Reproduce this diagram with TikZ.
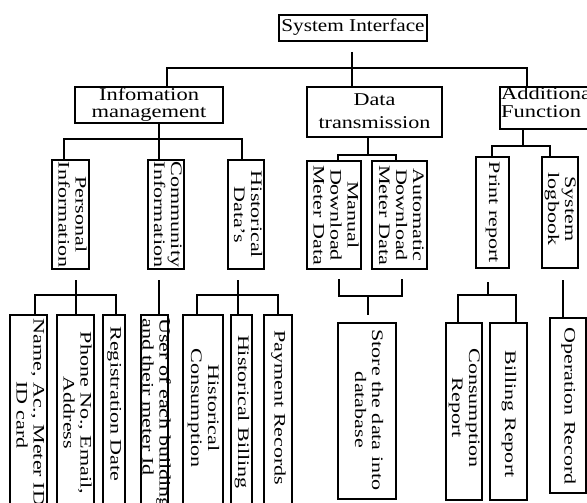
\documentclass[tikz,border=0pt]{standalone}
\usepackage{fontspec}
\setmainfont{Liberation Serif}
\usepackage{graphicx}
\newcommand{\vlab}[2][c]{\rotatebox{-90}{\scalebox{1.38}[1]{\begin{tabular}{@{}#1@{}}#2\end{tabular}}}}
\newcommand{\hlab}[3][c]{\scalebox{#2}[1]{\begin{tabular}{@{}#1@{}}#3\end{tabular}}}
\newcommand{\bx}[5]{\node[box, minimum width={#4-#2}, minimum height={#5-#3}] (#1) at ({(#2+#4)/2},{(#3+#5)/2}) {};}
\tikzset{
  box/.style={draw, line width=1.1pt, inner sep=0pt, outer sep=0pt, rectangle},
  htxt/.style={inner sep=0pt, font=\fontsize{18}{16}\selectfont},
  vtxt/.style={inner sep=0pt, font=\fontsize{16}{17}\selectfont},
  wire/.style={line width=1.1pt}
}
\begin{document}
\begin{tikzpicture}[x=1pt,y=-1pt]
\fill[white] (0,0) rectangle (587,503);
\useasboundingbox (0,0) rectangle (587,503);

% level 0
\bx{sys}{279}{15}{427}{41}
\node[htxt] (sys-t) at (sys) {\hlab{1.18}{System Interface}};

% level 1
\bx{info}{75}{87}{223}{123}
\node[htxt, font=\fontsize{18}{17.5}\selectfont] (info-t) at (149,105.5) {\hlab{1.25}{Infomation\\management}};
\bx{data}{307}{87}{442}{137}
\node[htxt, font=\fontsize{18}{23}\selectfont] (data-t) at (data) {\hlab{1.23}{Data\\transmission}};
\bx{add}{500}{87}{606}{129}
\node[htxt, font=\fontsize{18}{17.5}\selectfont, anchor=west] (add-t) at (501,105) {\hlab[l]{1.25}{Additional\\Function}};

% level 2
\bx{pers}{52}{160}{89}{269}
\bx{comm}{148}{160}{184}{269}
\bx{hist}{228}{160}{264}{269}
\bx{man}{307}{161}{361}{269}
\bx{auto}{372}{161}{427}{269}
\bx{prt}{476}{157}{509}{268}
\bx{logb}{542}{157}{578}{268}
\node[vtxt] (pers-t) at (pers) {\vlab{Personal\\Information}};
\node[vtxt] (comm-t) at (comm) {\vlab{Community\\Information}};
\node[vtxt] (hist-t) at (hist) {\vlab{Historical\\Data's}};
\node[vtxt] (man-t) at (man) {\vlab{Manual\\Download\\Meter Data}};
\node[vtxt] (auto-t) at (auto) {\vlab{Automatic\\Download\\Meter Data}};
\node[vtxt] (prt-t) at (prt) {\vlab{Print report}};
\node[vtxt] (logb-t) at (560,209) {\vlab{System\\logbook}};

% level 3
\bx{name}{10}{315}{47}{510}
\bx{phone}{57}{315}{94}{510}
\bx{reg}{103}{315}{125}{510}
\bx{user}{141}{315}{168}{510}
\bx{hcons}{183}{315}{223}{510}
\bx{hbill}{231}{315}{252}{510}
\bx{pay}{264}{315}{292}{510}
\bx{store}{338}{323}{396}{499}
\bx{crep}{446}{323}{482}{500}
\bx{brep}{490}{323}{527}{500}
\bx{oprec}{550}{318}{586}{493}
\node[vtxt] (name-t) at (28.5,415) {\vlab{Name, Ac., Meter ID,\\ID card}};
\node[vtxt] (phone-t) at (75.5,413) {\vlab{Phone No., Email,\\Address}};
\node[vtxt] (reg-t) at (114,404) {\vlab{Registration Date}};
\node[vtxt, anchor=north] (user-t) at (154.5,318) {\vlab[l]{User of each building\\and their meter Id}};
\node[vtxt] (hcons-t) at (203,408) {\vlab{Historical\\Consumption}};
\node[vtxt] (hbill-t) at (241.5,412) {\vlab{Historical Billing}};
\node[vtxt] (pay-t) at (278,408) {\vlab{Payment Records}};
\node[vtxt] (store-t) at (367,410) {\vlab{Store the data into\\database}};
\node[vtxt] (crep-t) at (464,408) {\vlab{Consumption\\Report}};
\node[vtxt] (brep-t) at (508.5,414) {\vlab{Billing Report}};
\node[vtxt] (oprec-t) at (568,406) {\vlab{Operation Record}};

% junction coordinates
\coordinate (s0) at (352,52);
\coordinate (b0) at (352,68);
\coordinate (b1) at (167,68);
\coordinate (b3) at (527,68);
\coordinate (c1) at (159,139);
\coordinate (cL) at (64,139);
\coordinate (cR) at (242,139);
\coordinate (dJ) at (368,155);
\coordinate (dL) at (338,155);
\coordinate (dR) at (396,155);
\coordinate (aJ) at (523,146);
\coordinate (aL) at (492,146);
\coordinate (aR) at (550,146);
\coordinate (pS) at (76,280);
\coordinate (pJ) at (76,295);
\coordinate (pL) at (35,295);
\coordinate (pR) at (116,295);
\coordinate (cS) at (159,280);
\coordinate (hS) at (238,280);
\coordinate (hJ) at (238,295);
\coordinate (hL) at (197,295);
\coordinate (hR) at (278,295);
\coordinate (mS) at (339,279);
\coordinate (mB) at (339,296);
\coordinate (aS) at (402,279);
\coordinate (aB) at (402,296);
\coordinate (sJ) at (368,296);
\coordinate (sE) at (368,315);
\coordinate (rS) at (488,282);
\coordinate (rJ) at (488,295);
\coordinate (rL) at (458,295);
\coordinate (rR) at (516,295);
\coordinate (lS) at (563,280);

% connectors
\draw[wire] (s0) -- (b0);
\draw[wire] (info.north -| b1) -- (b1) -- (b3) -- (add.north -| b3);
\draw[wire] (b0) -- (data.north -| b0);
\draw[wire] (info.south -| c1) -- (c1);
\draw[wire] (pers.north -| cL) -- (cL) -- (cR) -- (hist.north -| cR);
\draw[wire] (c1) -- (comm.north -| c1);
\draw[wire] (data.south -| dJ) -- (dJ);
\draw[wire] (man.north -| dL) -- (dL) -- (dR) -- (auto.north -| dR);
\draw[wire] (add.south -| aJ) -- (aJ);
\draw[wire] (prt.north -| aL) -- (aL) -- (aR) -- (logb.north -| aR);

\draw[wire] (pS) -- (pJ);
\draw[wire] (name.north -| pL) -- (pL) -- (pR) -- (reg.north -| pR);
\draw[wire] (pJ) -- (phone.north -| pJ);
\draw[wire] (cS) -- (user.north -| cS);
\draw[wire] (hS) -- (hJ);
\draw[wire] (hcons.north -| hL) -- (hL) -- (hR) -- (pay.north -| hR);
\draw[wire] (hJ) -- (hbill.north -| hJ);
\draw[wire] (mS) -- (mB) -- (aB) -- (aS);
\draw[wire] (sJ) -- (sE);
\draw[wire] (rS) -- (rJ);
\draw[wire] (crep.north -| rL) -- (rL) -- (rR) -- (brep.north -| rR);
\draw[wire] (lS) -- (oprec.north -| lS);
\end{tikzpicture}
\end{document}
